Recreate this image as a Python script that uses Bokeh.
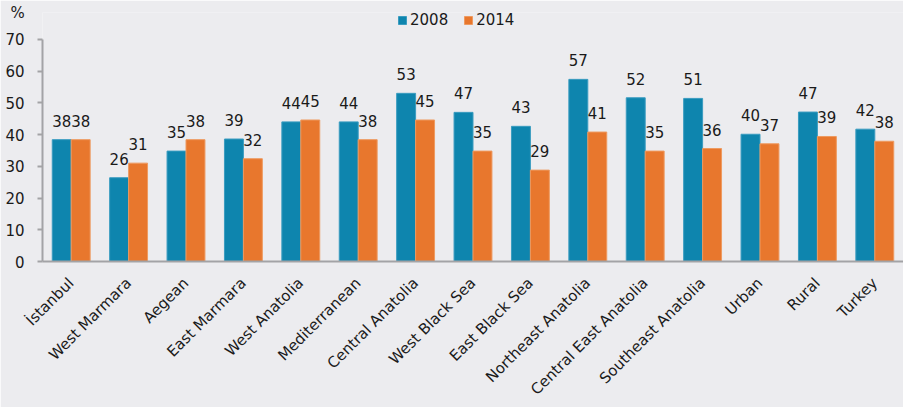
from bokeh.plotting import figure
from bokeh.models import ColumnDataSource, FactorRange, Range1d, Legend, LegendItem
from bokeh.transform import dodge
from bokeh.core.properties import value
from bokeh.embed import file_html
from bokeh.resources import INLINE

regions = ["İstanbul", "West Marmara", "Aegean", "East Marmara", "West Anatolia",
           "Mediterranean", "Central Anatolia", "West Black Sea", "East Black Sea",
           "Northeast Anatolia", "Central East Anatolia", "Southeast Anatolia",
           "Urban", "Rural", "Turkey"]
v2008 = [38.4, 26.4, 34.8, 38.6, 44.0, 44.0, 53.0, 47.0, 42.6, 57.4, 51.6, 51.4, 40.1, 47.1, 41.7]
v2014 = [38.4, 31.0, 38.4, 32.4, 44.6, 38.4, 44.6, 34.8, 28.8, 40.8, 34.8, 35.6, 37.1, 39.4, 37.9]
series = ["2008", "2014"]
y_ticks = [0, 10, 20, 30, 40, 50, 60, 70]
y_max = 70
unit = "%"

FONT = "DejaVu Sans"
BLUE = "#0E85AE"
ORANGE = "#E8772D"
BG = "#ECECEF"
AXIS = "#A3A3A6"
TXT = "#1A1A1A"

src = ColumnDataSource(dict(
    region=regions, v2008=v2008, v2014=v2014,
    l2008=[f"{v:.0f}" for v in v2008], l2014=[f"{v:.0f}" for v in v2014],
))

# pixel layout: frame spans rows FT..FB, value y_max sits at row TOP70
H, FT, TOP70, FB = 407, 12, 39, 262
p = figure(x_range=FactorRange(factors=regions, range_padding=0),
           y_range=Range1d(0, y_max * (FB - FT) / (FB - TOP70)),
           width=903, height=H, output_backend="svg", toolbar_location=None,
           title=unit,
           min_border_left=42, min_border_right=0, min_border_top=FT, min_border_bottom=H - FB,
           background_fill_color=BG, border_fill_color=BG)
p.outline_line_color = None
p.xgrid.grid_line_color = None
p.ygrid.grid_line_color = None

p.title.align = "left"
p.title.offset = -32
p.title.vertical_align = "bottom"
p.title.standoff = -18
p.title.text_font = FONT
p.title.text_font_size = "15px"
p.title.text_font_style = "normal"
p.title.text_color = TXT

r1 = p.vbar(x=dodge("region", -0.165, range=p.x_range), top="v2008", width=0.33, source=src,
            fill_color=BLUE, line_color="#3A9CC0", line_width=1)
r2 = p.vbar(x=dodge("region", 0.165, range=p.x_range), top="v2014", width=0.33, source=src,
            fill_color=ORANGE, line_color="#EE9A60", line_width=1)

for off, col in [(-0.165, "2008"), (0.165, "2014")]:
    p.text(x=dodge("region", off, range=p.x_range), y="v" + col, text="l" + col, source=src,
           text_align="center", text_baseline="bottom", y_offset=-13,
           text_font=value(FONT), text_font_size="15px", text_color=TXT)

p.yaxis.ticker = y_ticks
p.yaxis.bounds = (0, y_max)
p.yaxis.minor_tick_line_color = None
p.yaxis.major_tick_in = 0
p.yaxis.major_tick_out = 5
p.yaxis.major_tick_line_color = AXIS
p.yaxis.major_tick_line_width = 2
p.yaxis.axis_line_color = AXIS
p.yaxis.axis_line_width = 2
p.yaxis.major_label_standoff = 13
p.yaxis.major_label_text_font = FONT
p.yaxis.major_label_text_font_size = "15px"
p.yaxis.major_label_text_color = TXT

p.xaxis.major_tick_line_color = None
p.xaxis.axis_line_color = AXIS
p.xaxis.axis_line_width = 2
p.xaxis.major_label_orientation = 0.785398
p.xaxis.major_label_standoff = 13
p.xaxis.major_label_text_font = FONT
p.xaxis.major_label_text_font_size = "15px"
p.xaxis.major_label_text_color = TXT

legend = Legend(items=[LegendItem(label=series[0], renderers=[r1]),
                       LegendItem(label=series[1], renderers=[r2])],
                orientation="horizontal", location=(355, FB - FT - 18), padding=0, margin=0,
                spacing=15, label_standoff=3, glyph_width=10, glyph_height=10, label_height=17,
                label_text_font=FONT, label_text_font_size="15px", label_text_color=TXT,
                background_fill_alpha=0, border_line_color=None)
p.add_layout(legend)

open("out.html", "w").write(file_html(p, INLINE))
